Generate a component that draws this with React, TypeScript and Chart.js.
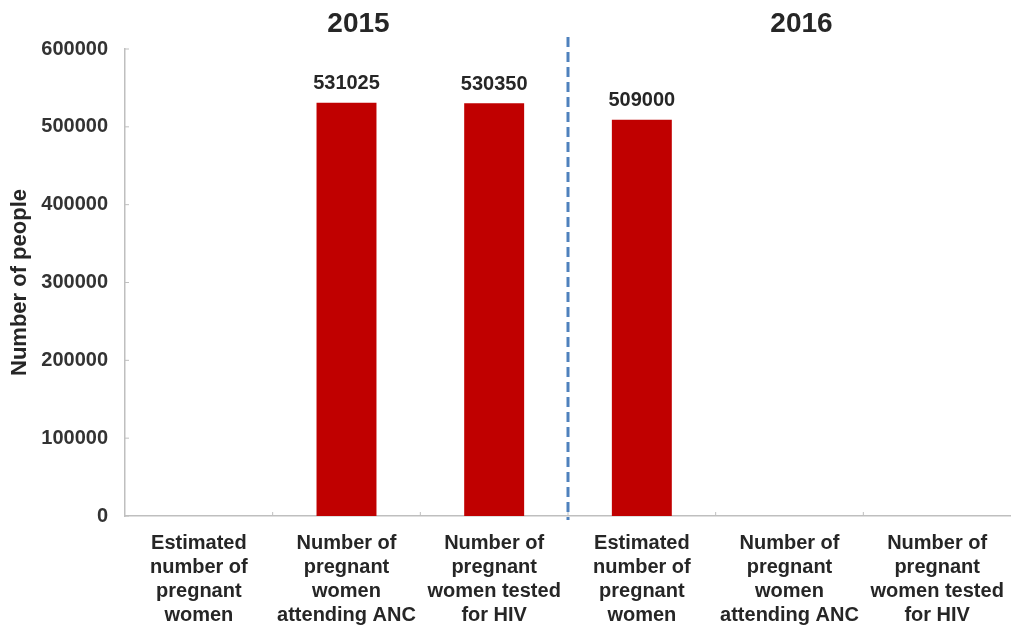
import React, { useEffect, useRef } from "react";
import { Chart, registerables } from "chart.js";

Chart.register(...registerables);

const categories: string[][] = [
  ["Estimated", "number of", "pregnant", "women"],
  ["Number of", "pregnant", "women", "attending ANC"],
  ["Number of", "pregnant", "women tested", "for HIV"],
  ["Estimated", "number of", "pregnant", "women"],
  ["Number of", "pregnant", "women", "attending ANC"],
  ["Number of", "pregnant", "women tested", "for HIV"],
];
const values: (number | null)[] = [null, 531025, 530350, 509000, null, null];
const groupTitles: string[] = ["2015", "2016"];
const groupSize = 3;
const yTitle = "Number of people";

const TEXT = "#262626";
const AXIS = "#bfbfbf";

const overlayPlugin = {
  id: "overlay",
  afterDatasetsDraw(chart: any) {
    const { ctx, chartArea, scales } = chart;
    const x = scales.x;
    const y = scales.y;
    ctx.save();
    // inward ticks
    ctx.strokeStyle = AXIS;
    ctx.lineWidth = 1;
    const step = x.getPixelForValue(1) - x.getPixelForValue(0);
    for (let i = 1; i < categories.length; i++) {
      const px = x.getPixelForValue(i) - step / 2;
      ctx.beginPath();
      ctx.moveTo(px, chartArea.bottom);
      ctx.lineTo(px, chartArea.bottom - 4);
      ctx.stroke();
    }
    y.ticks.forEach((t: any) => {
      const py = y.getPixelForValue(t.value);
      ctx.beginPath();
      ctx.moveTo(chartArea.left, py);
      ctx.lineTo(chartArea.left + 4, py);
      ctx.stroke();
    });
    // value labels
    const meta = chart.getDatasetMeta(0);
    ctx.fillStyle = TEXT;
    ctx.font = "bold 20px 'Liberation Sans', Arial, sans-serif";
    ctx.textAlign = "center";
    ctx.textBaseline = "middle";
    meta.data.forEach((bar: any, i: number) => {
      const v = values[i];
      if (v == null) return;
      ctx.fillText(String(v), bar.x, bar.y - 19);
    });
    // group titles
    ctx.font = "bold 28px 'Liberation Sans', Arial, sans-serif";
    groupTitles.forEach((t, g) => {
      const mid = g * groupSize + 1;
      ctx.fillText(t, x.getPixelForValue(mid) + 12, 24);
    });
    // dashed separator
    for (let g = 1; g < groupTitles.length; g++) {
      const px = (x.getPixelForValue(g * groupSize - 1) + x.getPixelForValue(g * groupSize)) / 2;
      ctx.strokeStyle = "#4f81bd";
      ctx.lineWidth = 3;
      ctx.setLineDash([10, 5]);
      ctx.beginPath();
      ctx.moveTo(px, 37);
      ctx.lineTo(px, chartArea.bottom + 4);
      ctx.stroke();
    }
    ctx.restore();
  },
};

export default function App() {
  const ref = useRef<HTMLCanvasElement>(null);
  useEffect(() => {
    if (!ref.current) return;
    const chart = new Chart(ref.current, {
      type: "bar",
      data: {
        labels: categories as any,
        datasets: [
          {
            data: values,
            backgroundColor: "#c00000",
            borderWidth: 0,
            barPercentage: 0.406,
            categoryPercentage: 1,
          },
        ],
      },
      options: {
        responsive: false,
        animation: false,
        layout: { padding: { top: 49, right: 0, bottom: 0, left: 0 } },
        plugins: { legend: { display: false }, tooltip: { enabled: false } },
        scales: {
          x: {
            grid: { display: false, drawTicks: false },
            border: { color: AXIS, width: 1.5 },
            ticks: {
              color: TEXT,
              font: { family: "'Liberation Sans', Arial, sans-serif", size: 20, weight: "bold", lineHeight: 1.2 },
              padding: 15,
              maxRotation: 0,
              autoSkip: false,
            },
            afterFit: (s: any) => {
              s.height = 119;
              s.paddingLeft = 0;
              s.paddingRight = 0;
            },
          },
          y: {
            min: 0,
            max: 600000,
            grid: { display: false, drawTicks: false },
            border: { color: AXIS, width: 1.5 },
            ticks: {
              stepSize: 100000,
              color: "#333333",
              font: { family: "'Liberation Sans', Arial, sans-serif", size: 20, weight: "bold" },
              padding: 17,
              callback: (v: any) => String(v),
            },
            title: {
              display: true,
              text: yTitle,
              color: TEXT,
              font: { family: "'Liberation Sans', Arial, sans-serif", size: 22, weight: "bold" },
              padding: 7,
            },
            afterFit: (s: any) => {
              s.width = 125;
              s.paddingTop = 0;
              s.paddingBottom = 0;
            },
          },
        },
      },
      plugins: [overlayPlugin],
    });
    return () => chart.destroy();
  }, []);
  return (
    <div style={{ position: "absolute", left: 0, top: 0, width: 1011, height: 635, background: "#fff" }}>
      <canvas ref={ref} width={1011} height={635} />
    </div>
  );
}
